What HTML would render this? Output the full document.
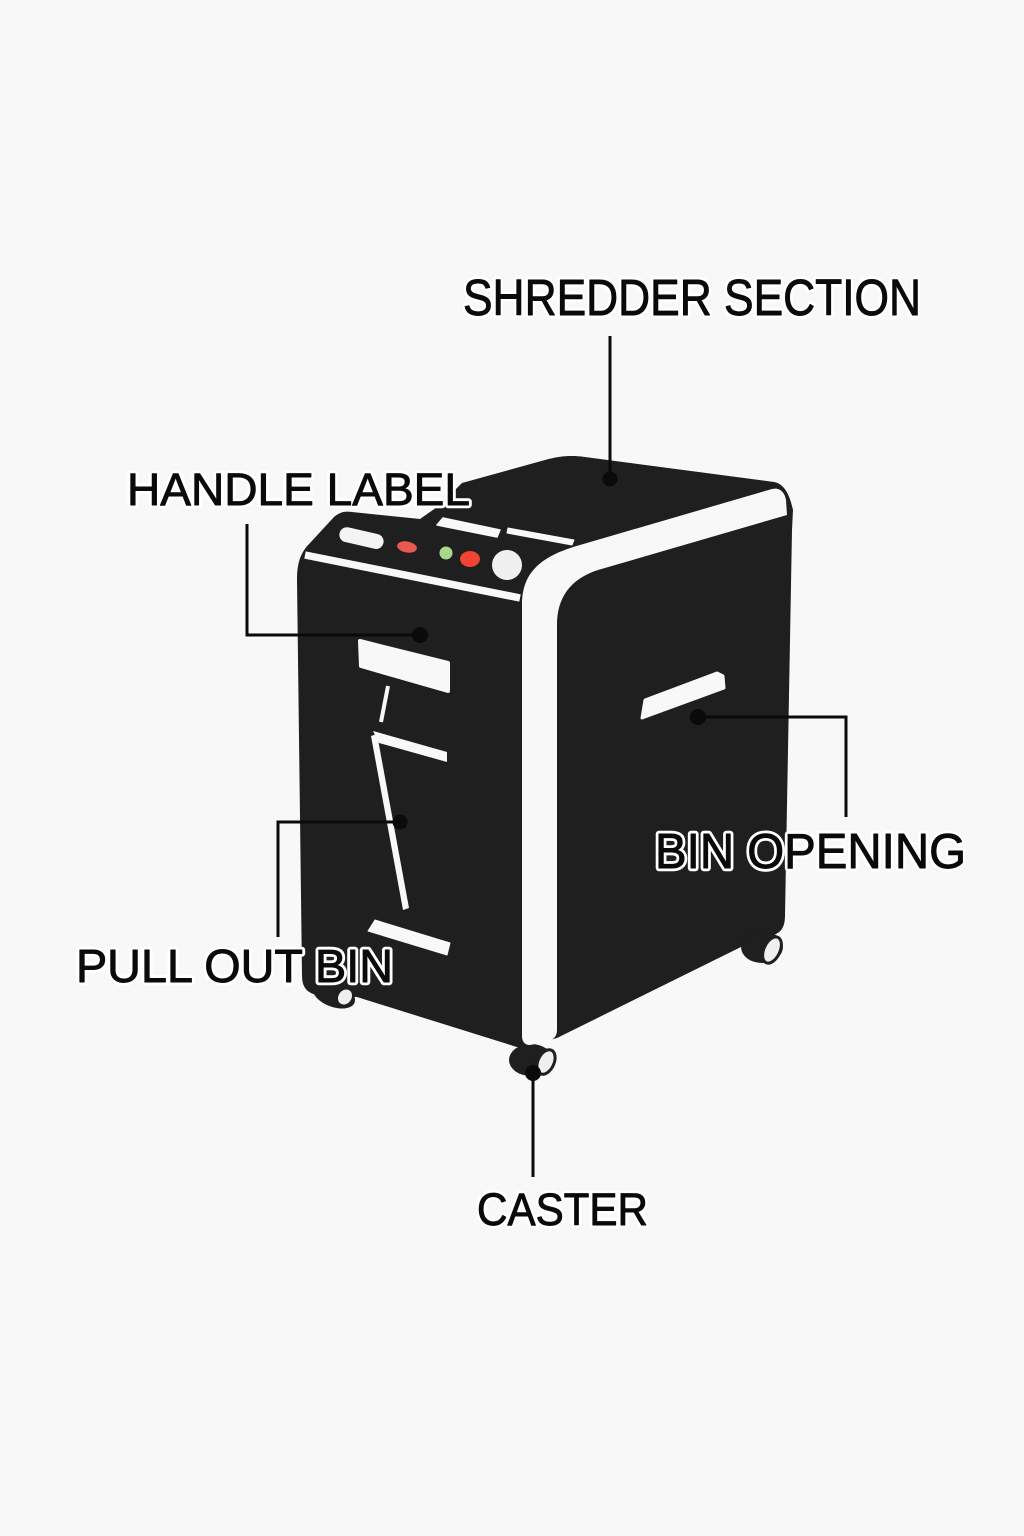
<!DOCTYPE html>
<html>
<head>
<meta charset="utf-8">
<style>
  html,body{margin:0;padding:0;background:#f8f8f8;}
  svg{display:block;}
  .halo{font-family:"Liberation Sans",sans-serif;fill:#0a0a0a;stroke:#ffffff;stroke-width:6.5;stroke-linejoin:round;}
  .lbl{font-family:"Liberation Sans",sans-serif;fill:#0a0a0a;stroke:#0a0a0a;stroke-width:0.9;stroke-linejoin:round;}
</style>
</head>
<body>
<svg width="1024" height="1536" viewBox="0 0 1024 1536" xmlns="http://www.w3.org/2000/svg">
  <rect x="0" y="0" width="1024" height="1536" fill="#f8f8f8"/>

  <!-- Body -->
  <path fill="#1f1f1f" d="
    M 297,580
    C 297,562 301,552 310,543
    L 334,517
    C 340,512 345,511 352,512
    L 420,519
    L 440,505
    L 462,483
    L 545,460
    C 560,456 570,455 585,457
    L 774,482
    C 785,484 790,496 793,510
    L 792,530
    L 785,915
    C 785,926 782,931 776,934
    L 745,945
    L 557,1038
    L 520,1048
    L 357,997
    L 322,996
    C 307,994 302,988 302,975
    Z"/>

  <!-- Caster blobs -->
  <ellipse cx="334" cy="995" rx="22" ry="12" fill="#1f1f1f" transform="rotate(20 334 995)"/>
  <ellipse cx="531" cy="1060" rx="22" ry="16" fill="#1f1f1f"/>
  <ellipse cx="762" cy="947" rx="21" ry="16" fill="#1f1f1f"/>
  <!-- Caster wheels -->
  <ellipse cx="345" cy="997" rx="7.5" ry="9" fill="#efefef" stroke="#1f1f1f" stroke-width="2" transform="rotate(35 345 997)"/>
  <ellipse cx="546" cy="1062" rx="8" ry="13" fill="#efefef" stroke="#1f1f1f" stroke-width="3" transform="rotate(25 546 1062)"/>
  <ellipse cx="772" cy="950" rx="8" ry="14" fill="#efefef" stroke="#1f1f1f" stroke-width="3" transform="rotate(25 772 950)"/>

  <!-- White corner stripe -->
  <path fill="#f8f8f8" d="
    M 522,1036
    L 522,605
    C 522,572 541,556 580,545
    L 772,489
    C 780,487 785,493 786,500
    L 787,515
    L 598,570
    C 570,579 557,598 557,625
    L 557,1030
    C 557,1037 553,1040 546,1042
    L 530,1045
    C 525,1045 522,1042 522,1036 Z"/>

  <!-- Control panel strip -->
  <line x1="305" y1="555" x2="520" y2="598" stroke="#f8f8f8" stroke-width="7.5"/>

  <!-- Top slots -->
  <polygon points="443,518 500,530 497,537 437,525" fill="#f8f8f8" stroke="#f8f8f8" stroke-width="1.5" stroke-linejoin="round"/>
  <polygon points="508,528 574,540 572,545 507,533" fill="#f8f8f8" stroke="#f8f8f8" stroke-width="1" stroke-linejoin="round"/>

  <!-- Buttons -->
  <rect x="339" y="530.5" width="45" height="15" rx="7.5" fill="#f4f4f4" transform="rotate(13 361 538)"/>
  <ellipse cx="407" cy="547" rx="10" ry="5.5" fill="#e85a50" transform="rotate(10 407 547)"/>
  <circle cx="446" cy="553" r="6.5" fill="#a8d88a"/>
  <ellipse cx="470" cy="559" rx="10" ry="8" fill="#f04434"/>
  <circle cx="507" cy="565" r="15" fill="#f0f0f0"/>

  <!-- Front handle -->
  <polygon points="360,641 448,663 448,691 361,666" fill="#f8f8f8" stroke="#f8f8f8" stroke-width="4" stroke-linejoin="round"/>

  <!-- Bin lines -->
  <line x1="388" y1="686" x2="381" y2="722" stroke="#f8f8f8" stroke-width="4"/>
  <polygon points="373,731 447,752 447,762 379,743" fill="#f8f8f8"/>
  <polygon points="371,736 377,734 409,908 403,910" fill="#f8f8f8"/>
  <polygon points="375,920 450,943 447,955 368,931" fill="#f8f8f8" stroke="#f8f8f8" stroke-width="1" stroke-linejoin="round"/>

  <!-- Right side slot -->
  <polygon points="645,700 717,673 723,676 724,688 642,718" fill="#f8f8f8" stroke="#f8f8f8" stroke-width="3" stroke-linejoin="round"/>

  <!-- Leader lines -->
  <g stroke="#0a0a0a" stroke-width="3" fill="none">
    <line x1="610" y1="336" x2="610" y2="479"/>
    <polyline points="247,524 247,635 420,635"/>
    <polyline points="278,937 278,822 400,822"/>
    <polyline points="698,717 846,717 846,817"/>
    <line x1="533" y1="1073" x2="533" y2="1177"/>
  </g>
  <g fill="#0a0a0a">
    <circle cx="610" cy="479" r="7.5"/>
    <circle cx="420" cy="635" r="8"/>
    <circle cx="400" cy="822" r="7.5"/>
    <circle cx="698" cy="717" r="8"/>
    <circle cx="533" cy="1073" r="8"/>
  </g>

  <!-- Labels: halo layer -->
  <text class="halo" x="463" y="315" font-size="51" textLength="458" lengthAdjust="spacingAndGlyphs">SHREDDER SECTION</text>
  <text class="halo" x="127" y="505" font-size="45" textLength="343" lengthAdjust="spacingAndGlyphs">HANDLE LABEL</text>
  <text class="halo" x="76" y="982" font-size="46" textLength="317" lengthAdjust="spacingAndGlyphs">PULL OUT BIN</text>
  <text class="halo" x="655" y="868" font-size="49" textLength="311" lengthAdjust="spacingAndGlyphs">BIN OPENING</text>
  <text class="halo" x="477" y="1225" font-size="45" textLength="171" lengthAdjust="spacingAndGlyphs">CASTER</text>
  <!-- Labels: fill layer -->
  <text class="lbl" x="463" y="315" font-size="51" textLength="458" lengthAdjust="spacingAndGlyphs">SHREDDER SECTION</text>
  <text class="lbl" x="127" y="505" font-size="45" textLength="343" lengthAdjust="spacingAndGlyphs">HANDLE LABEL</text>
  <text class="lbl" x="76" y="982" font-size="46" textLength="317" lengthAdjust="spacingAndGlyphs">PULL OUT BIN</text>
  <text class="lbl" x="655" y="868" font-size="49" textLength="311" lengthAdjust="spacingAndGlyphs">BIN OPENING</text>
  <text class="lbl" x="477" y="1225" font-size="45" textLength="171" lengthAdjust="spacingAndGlyphs">CASTER</text>
</svg>
</body>
</html>
